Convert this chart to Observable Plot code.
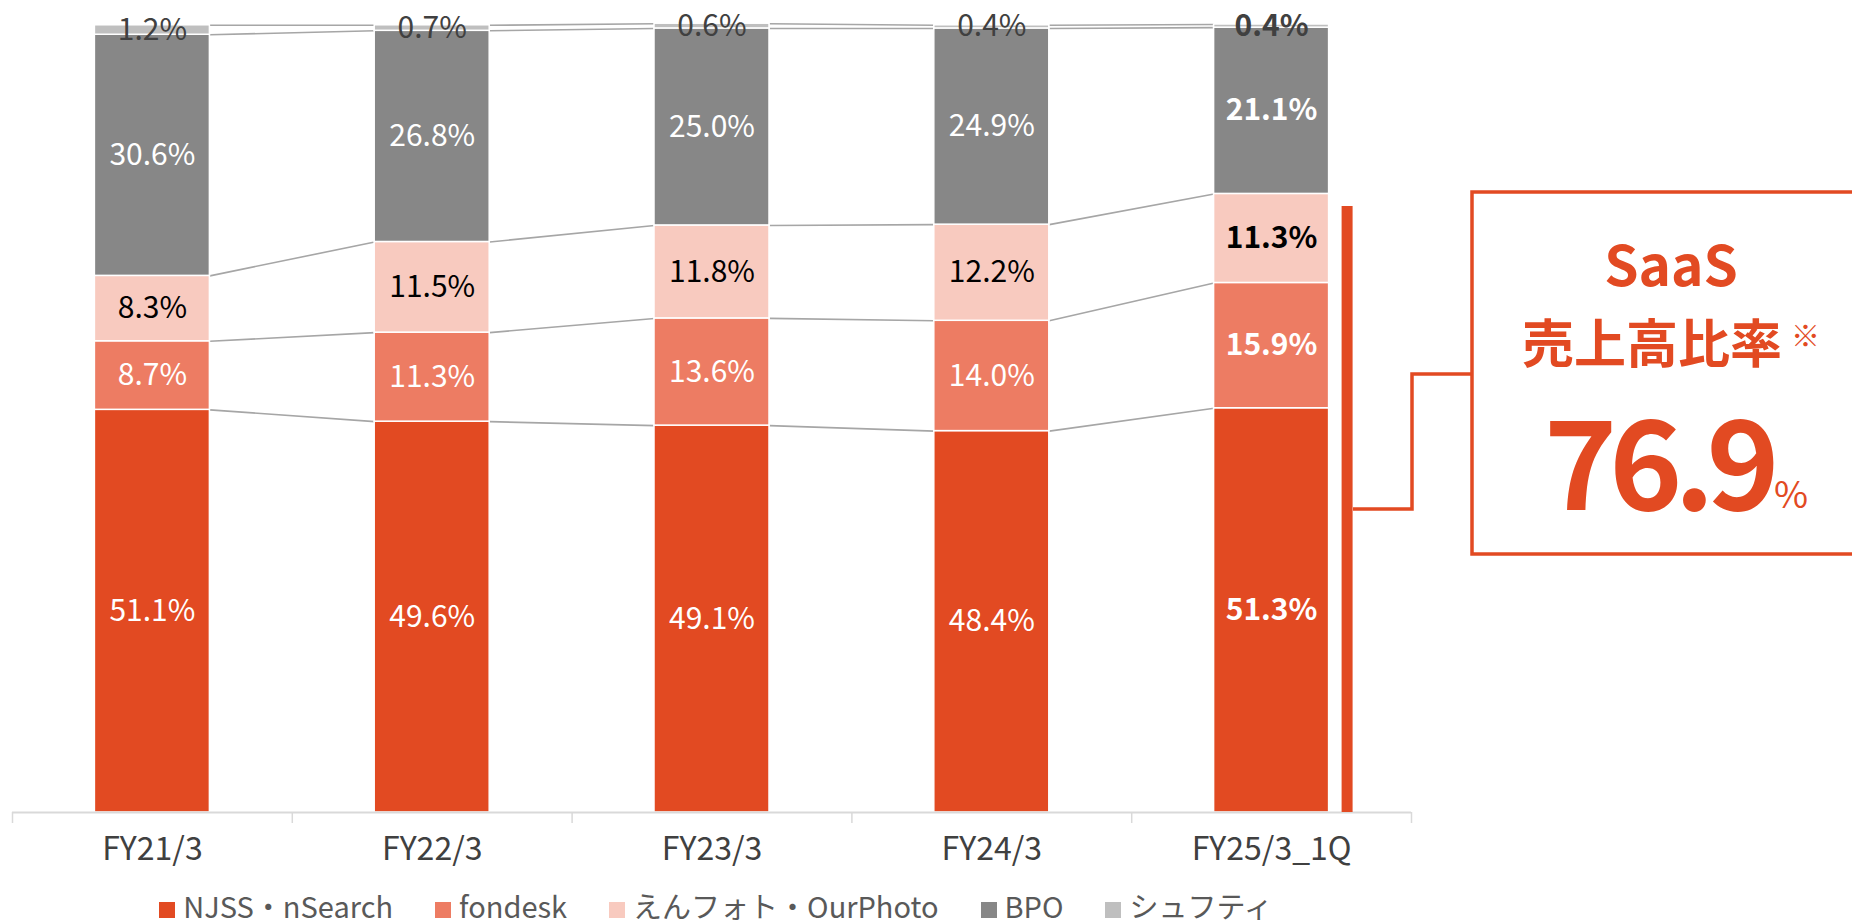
<!DOCTYPE html>
<html>
<head>
<meta charset="utf-8">
<script src="https://cdn.jsdelivr.net/npm/d3@7"></script>
<script src="https://cdn.jsdelivr.net/npm/@observablehq/plot@0.6"></script>
<style>
html, body { margin: 0; padding: 0; background: #fff; overflow: hidden; width: 1852px; height: 923px; }
#chart svg { display: block; }
#legendWrap { width: 1432px; height: 40px; padding-bottom: 3px; display: flex; justify-content: center; align-items: flex-end; }
.leg-swatches { font-family: 'Noto Sans CJK JP', sans-serif !important; font-size: 29px !important; color: #595959 !important; margin: 0 !important; min-height: 0 !important; gap: 42px; line-height: 29px; }
.leg-swatch { margin-right: 0 !important; align-items: baseline !important; }
.leg-swatch > svg { margin-right: 8px !important; }
</style>
</head>
<body>
<div id="chart"></div>
<div id="legendWrap"></div>
<script>
// ---- data ----
const categories = ["FY21/3", "FY22/3", "FY23/3", "FY24/3", "FY25/3_1Q"];
const seriesNames = ["NJSS・nSearch", "fondesk", "えんフォト・OurPhoto", "BPO", "シュフティ"];
const njss     = [51.1, 49.6, 49.1, 48.4, 51.3];
const fondesk  = [8.7, 11.3, 13.6, 14.0, 15.9];
const enphoto  = [8.3, 11.5, 11.8, 12.2, 11.3];
const bpo      = [30.6, 26.8, 25.0, 24.9, 21.1];
const shufti   = [1.2, 0.7, 0.6, 0.4, 0.4];
const saasRatio = 76.9;

const seriesColors = ["#E24A22", "#ED7C63", "#F8CABF", "#878787", "#BFBFBF"];
const labelColors  = ["#FFFFFF", "#FFFFFF", "#000000", "#FFFFFF", "#404040"];
const red = "#E24A22";

// ---- build stacked table ----
const seriesValues = [njss, fondesk, enphoto, bpo, shufti];
const rows = [];
categories.forEach((c, i) => {
  let acc = 0;
  seriesValues.forEach((vals, s) => {
    const v = vals[i];
    rows.push({i, cat: c, series: seriesNames[s], s, value: v, y1: acc, y2: acc + v});
    acc += v;
  });
});
const hw = 0.2055; // half bar width in category units
const links = [];
for (let i = 0; i < categories.length - 1; i++) {
  for (let s = 0; s < seriesNames.length; s++) {
    const a = rows.find(r => r.i === i && r.s === s);
    const b = rows.find(r => r.i === i + 1 && r.s === s);
    links.push({i, a: a.y2, b: b.y2});
  }
}
const boundaries = d3.range(categories.length + 1).map(k => k - 0.5);
const last = categories.length - 1;

const labelMarks = [];
seriesNames.forEach((name, s) => {
  [false, true].forEach(bold => {
    labelMarks.push(Plot.text(rows.filter(r => r.s === s && (r.i === last) === bold), {
      x: "i", y: r => (r.y1 + r.y2) / 2,
      text: r => r.value.toFixed(1) + "%",
      fill: labelColors[s], fontSize: 30, fontWeight: bold ? "bold" : "normal"
    }));
  });
});

const chart = Plot.plot({
  width: 1852, height: 880,
  marginLeft: 12, marginRight: 441, marginTop: 24, marginBottom: 68,
  x: {domain: [-0.5, categories.length - 0.5], axis: null},
  y: {domain: [0, 100], axis: null},
  color: {domain: seriesNames, range: seriesColors},
  style: {fontFamily: "'Noto Sans CJK JP', sans-serif", background: "white", overflow: "visible"},
  marks: [
    Plot.link(links, {x1: d => d.i + hw, x2: d => d.i + 1 - hw, y1: "a", y2: "b", stroke: "#A6A6A6", strokeWidth: 1.6}),
    Plot.rect(rows, {x1: d => d.i - hw, x2: d => d.i + hw, y1: "y1", y2: "y2", fill: "series", stroke: "white", strokeWidth: 1.5}),
    Plot.ruleY([0], {stroke: "#D9D9D9", strokeWidth: 2}),
    Plot.ruleX(boundaries, {y1: 0, y2: 0, insetBottom: -11, stroke: "#D9D9D9", strokeWidth: 1.5}),
    Plot.text(categories, {x: (d, i) => i, y: 0, dy: 37, text: d => d, fontSize: 32, fill: "#404040"}),
    Plot.ruleX([saasRatio], {x: last, y1: 0, y2: d => d, dx: 75.5, stroke: red, strokeWidth: 11}),
    ...labelMarks
  ]
});
document.getElementById("chart").appendChild(chart);

// ---- SaaS annotation ----
const ys = chart.scale("y");
const svg = d3.select(chart);
const midY = ys.apply(saasRatio / 2);
const g = svg.append("g").attr("fill", "none").attr("stroke", red).attr("stroke-width", 3.5);
g.append("polyline")
  .attr("points", `1353,${midY} 1412,${midY} 1412,374 1472,374`);
g.append("rect").attr("x", 1472).attr("y", 192).attr("width", 520).attr("height", 362);
const t = svg.append("g").attr("fill", red).attr("font-family", "'Noto Sans CJK JP', sans-serif");
t.append("text").attr("x", 1671).attr("y", 286).attr("text-anchor", "middle")
  .attr("font-size", 55).attr("font-weight", "bold").text("SaaS");
t.append("text").attr("x", 1652).attr("y", 363).attr("text-anchor", "middle")
  .attr("font-size", 52).attr("font-weight", "bold").text("売上高比率");
t.append("text").attr("x", 1791).attr("y", 347).attr("text-anchor", "start")
  .attr("font-size", 29).text("※");
t.append("text").attr("x", 1544).attr("y", 510).attr("text-anchor", "start")
  .attr("font-size", 124).attr("font-weight", "bold").attr("letter-spacing", "-8px").text(saasRatio.toFixed(1));
t.append("text").attr("x", 1774).attr("y", 508).attr("text-anchor", "start")
  .attr("font-size", 37).text("%");

// ---- legend ----
const legend = chart.legend("color", {legend: "swatches", swatchSize: 16, className: "leg"});
document.getElementById("legendWrap").appendChild(legend);
</script>
</body>
</html>
